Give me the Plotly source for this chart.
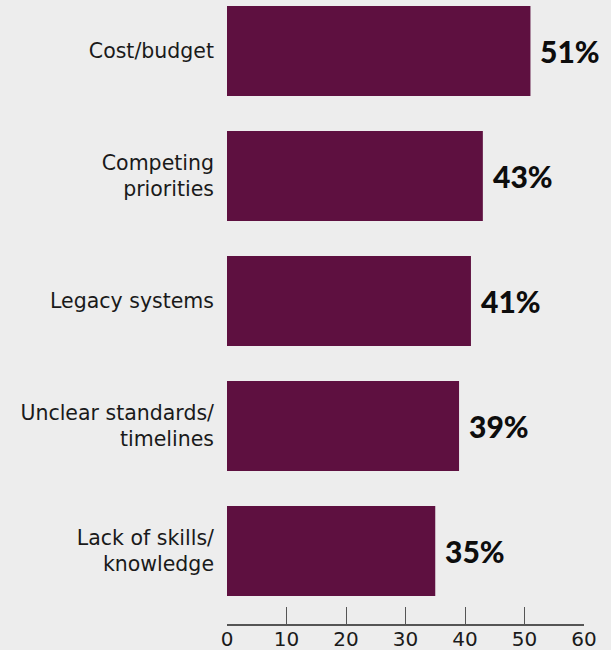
import plotly.graph_objects as go

# Survey: main barriers, share of respondents (%)
categories = ["Cost/budget", "Competing<br>priorities", "Legacy systems",
              "Unclear standards/<br>timelines", "Lack of skills/<br>knowledge"]
values = [51, 43, 41, 39, 35]
x_ticks = [0, 10, 20, 30, 40, 50, 60]

BAR = "#5E1040"
BG = "#EDEDED"
LABEL_FONT = "'DejaVu Sans', 'Noto Sans', sans-serif"
VALUE_FONT = "Lato, 'Noto Sans', sans-serif"

# top category drawn highest
ypos = list(range(len(categories) - 1, -1, -1))

fig = go.Figure(go.Bar(
    x=values, y=ypos, orientation="h",
    marker=dict(color=BAR, line=dict(width=0)),
    width=0.72,
))

for v, y in zip(values, ypos):
    fig.add_annotation(
        x=v, y=y, text=f"{v}%", showarrow=False,
        xanchor="left", yanchor="middle", xshift=8,
        font=dict(family=VALUE_FONT, size=30, color="#0d0d0d", weight=900),
    )

fig.update_layout(
    width=611, height=650,
    margin=dict(l=227, r=27, t=0, b=26),
    paper_bgcolor=BG, plot_bgcolor=BG,
    showlegend=False,
    font=dict(family=LABEL_FONT, color="#1a1a1a"),
)
fig.update_xaxes(
    automargin=False,
    range=[0, 60], tickvals=x_ticks, showgrid=False, zeroline=False,
    showline=True, linecolor="#555555", linewidth=1.5,
    ticks="inside", ticklen=17, tickwidth=1.2, tickcolor="#555555",
    ticklabelstandoff=-4,
    tickfont=dict(size=20, family=LABEL_FONT, color="#1a1a1a"),
)
fig.update_yaxes(
    automargin=False,
    range=[-0.584, 4.408], tickvals=ypos, ticktext=categories,
    showgrid=False, zeroline=False, showline=False, ticks="",
    ticklabelstandoff=12,
    tickfont=dict(size=20.5, family=LABEL_FONT, color="#1a1a1a"),
)

fig.write_html("out.html")
